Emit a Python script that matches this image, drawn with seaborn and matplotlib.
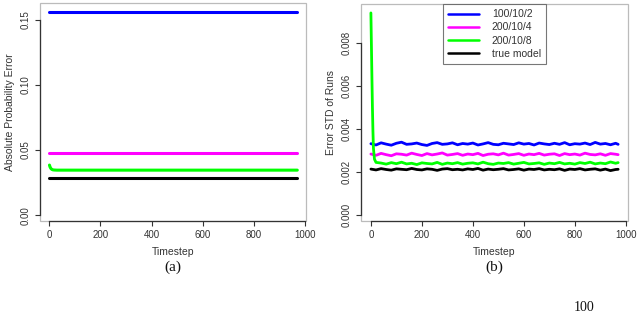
import matplotlib
matplotlib.use('Agg')
import matplotlib.pyplot as plt
import seaborn as sns
import pandas as pd
from matplotlib.patches import Rectangle

# Series names and colours (shared by both panels)
series_names = ['100/10/2', '200/10/4', '200/10/8', 'true model']
series_colors = ['#0000ff', '#ff00ff', '#00ff00', '#000000']

# Panel (a): absolute probability error
t_a_flat = [1, 970]
err_a_blue = [0.1565, 0.1565]
err_a_magenta = [0.0480, 0.0480]
t_a_green = [1, 3, 6, 10, 15, 20, 30, 970]
err_a_green = [0.0385, 0.0372, 0.0360, 0.0352, 0.0348, 0.0347, 0.0346, 0.0346]
err_a_black = [0.0287, 0.0287]

# Panel (b): error STD of runs (values in units of 1e-3), sampled every 20 steps
t_b = list(range(0, 961, 20)) + [970]
std_b_blue = [3.32, 3.26, 3.36, 3.30, 3.25, 3.34, 3.39, 3.29, 3.31, 3.35,
              3.28, 3.24, 3.33, 3.37, 3.29, 3.31, 3.36, 3.27, 3.33, 3.30,
              3.35, 3.26, 3.31, 3.37, 3.29, 3.27, 3.34, 3.31, 3.28, 3.36,
              3.30, 3.33, 3.26, 3.35, 3.31, 3.28, 3.34, 3.29, 3.37, 3.27,
              3.32, 3.30, 3.35, 3.28, 3.38, 3.30, 3.33, 3.27, 3.34, 3.29]
std_b_magenta = [2.84, 2.78, 2.87, 2.81, 2.76, 2.85, 2.83, 2.79, 2.88, 2.82,
                 2.77, 2.86, 2.80, 2.84, 2.89, 2.79, 2.82, 2.86, 2.78, 2.84,
                 2.81, 2.87, 2.77, 2.83, 2.85, 2.80, 2.88, 2.79, 2.82, 2.86,
                 2.78, 2.84, 2.81, 2.87, 2.79, 2.83, 2.85, 2.77, 2.86, 2.81,
                 2.84, 2.79, 2.88, 2.82, 2.80, 2.85, 2.78, 2.86, 2.83, 2.81]
t_b_green = [0, 2, 4, 6, 8, 10, 14, 20] + list(range(40, 961, 20)) + [970]
std_b_green = [9.40, 7.90, 6.40, 5.00, 3.90, 3.10, 2.60, 2.45,
               2.42, 2.37, 2.44, 2.39, 2.46, 2.38, 2.41, 2.35, 2.43, 2.40,
               2.38, 2.45, 2.36, 2.42, 2.39, 2.44, 2.37, 2.41, 2.43, 2.38,
               2.46, 2.39, 2.36, 2.42, 2.40, 2.44, 2.37, 2.41, 2.45, 2.38,
               2.40, 2.43, 2.36, 2.42, 2.39, 2.45, 2.38, 2.41, 2.37, 2.44,
               2.40, 2.46, 2.38, 2.42, 2.39, 2.47, 2.41, 2.44]
std_b_black = [2.14, 2.10, 2.16, 2.12, 2.09, 2.15, 2.13, 2.11, 2.17, 2.12,
               2.10, 2.15, 2.13, 2.08, 2.14, 2.16, 2.11, 2.13, 2.10, 2.15,
               2.12, 2.17, 2.09, 2.14, 2.11, 2.13, 2.16, 2.10, 2.12, 2.15,
               2.09, 2.14, 2.12, 2.16, 2.10, 2.13, 2.11, 2.15, 2.08, 2.14,
               2.12, 2.16, 2.10, 2.13, 2.15, 2.09, 2.14, 2.07, 2.12, 2.13]


def long_df(parts, scale=1.0):
    rows = []
    for name, xs, ys in parts:
        for x, y in zip(xs, ys):
            rows.append({'Timestep': x, 'value': y * scale, 'series': name})
    return pd.DataFrame(rows)


df_a = long_df([
    (series_names[0], t_a_flat, err_a_blue),
    (series_names[1], t_a_flat, err_a_magenta),
    (series_names[2], t_a_green, err_a_green),
    (series_names[3], t_a_flat, err_a_black),
])
df_b = long_df([
    (series_names[0], t_b, std_b_blue),
    (series_names[1], t_b, std_b_magenta),
    (series_names[2], t_b_green, std_b_green),
    (series_names[3], t_b, std_b_black),
], scale=1e-3)

sns.set_theme(style='white')
plt.rcParams['font.family'] = ['Liberation Sans', 'DejaVu Sans']

palette = dict(zip(series_names, series_colors))
dark = '#333333'

fig = plt.figure(figsize=(6.4, 3.15), dpi=100)
ax_a = fig.add_axes([0.0625, 0.298, 0.4156, 0.692])
ax_b = fig.add_axes([0.564, 0.298, 0.417, 0.689])


def style_axes(ax, yticks, ylabels, ylabel):
    ax.set_xticks([0, 200, 400, 600, 800, 1000])
    ax.set_yticks(yticks)
    ax.set_yticklabels(ylabels, rotation=90, va='center')
    ax.tick_params(axis='both', length=3.5, width=0.8, color=dark,
                   labelsize=7, labelcolor=dark, pad=3, direction='out',
                   left=True, bottom=True)
    for s in ax.spines.values():
        s.set_visible(True)
        s.set_color(dark)
        s.set_linewidth(0.9)
    ax.spines['top'].set_visible(False)
    ax.spines['right'].set_visible(False)
    ax.spines['left'].set_bounds(yticks[0], yticks[-1])
    ax.spines['bottom'].set_bounds(0, 1000)
    # light box around the plotting region
    ax.add_patch(Rectangle((0, 0), 1, 1, transform=ax.transAxes, fill=False,
                           edgecolor='#bbbbbb', linewidth=0.9, clip_on=False,
                           zorder=0))
    ax.set_xlabel('Timestep', fontsize=7.5, color=dark, labelpad=5)
    ax.set_ylabel(ylabel, fontsize=7.5, color=dark, labelpad=4)


sns.lineplot(data=df_a, x='Timestep', y='value', hue='series',
             hue_order=series_names, palette=palette, estimator=None,
             sort=False, linewidth=2.2, legend=False, ax=ax_a)
ax_a.set_xlim(-36, 1004)
ax_a.set_ylim(-0.0046, 0.163)
style_axes(ax_a, [0.0, 0.05, 0.10, 0.15], ['0.00', '0.05', '0.10', '0.15'],
           'Absolute Probability Error')

sns.lineplot(data=df_b, x='Timestep', y='value', hue='series',
             hue_order=series_names, palette=palette, estimator=None,
             sort=False, linewidth=2.0, legend=True, ax=ax_b)
ax_b.set_xlim(-39, 1008)
ax_b.set_ylim(-0.00028, 0.00981)
style_axes(ax_b, [0.0, 0.002, 0.004, 0.006, 0.008],
           ['0.000', '0.002', '0.004', '0.006', '0.008'], 'Error STD of Runs')

sns.move_legend(ax_b, 'upper center', bbox_to_anchor=(0.5, 1.0), title=None,
                frameon=True, fancybox=False, fontsize=7.5, handlelength=3.0,
                handletextpad=1.2, labelspacing=0.3, borderpad=0.5,
                borderaxespad=0.0)
leg = ax_b.get_legend()
leg.get_frame().set_edgecolor('#555555')
leg.get_frame().set_linewidth(0.8)
for line in leg.get_lines():
    line.set_linewidth(1.8)
for txt in leg.get_texts():
    txt.set_color(dark)

# panel captions
fig.text(0.270, 0.152, '(a)', ha='center', va='center', fontsize=11,
         family=['Liberation Serif', 'DejaVu Serif'], color='#111111')
fig.text(0.772, 0.152, '(b)', ha='center', va='center', fontsize=11,
         family=['Liberation Serif', 'DejaVu Serif'], color='#111111')
fig.text(0.912, 0.002, '100', ha='center', va='bottom', fontsize=10,
         family=['Liberation Serif', 'DejaVu Serif'], color='#111111')

fig.savefig('out.png', dpi=100)
